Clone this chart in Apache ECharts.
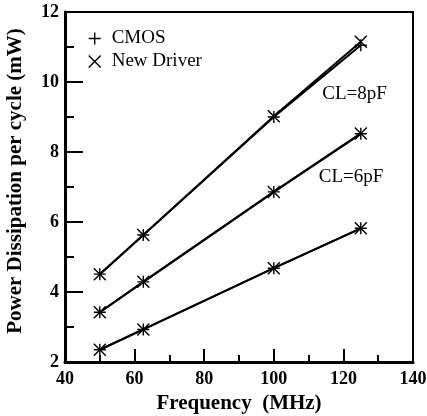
<!DOCTYPE html>
<html>
<head>
<meta charset="utf-8">
<script src="https://cdn.jsdelivr.net/npm/echarts@6/dist/echarts.min.js"></script>
<style>
  html, body { margin: 0; padding: 0; background: #fff; }
  #chart { width: 427px; height: 416px; }
</style>
</head>
<body>
<div id="chart"></div>
<script>
// Clock frequencies (MHz)
const freqs = [50, 62.5, 100, 125];

// Power dissipation per cycle (mW) for each load capacitance
const cmos8 = [4.51, 5.63, 9.00, 11.05];
const newDriver8 = [4.51, 5.63, 9.02, 11.15];
const cmos6 = [3.42, 4.29, 6.86, 8.52];
const newDriver6 = [3.42, 4.29, 6.86, 8.53];
const cmosLow = [2.35, 2.93, 4.68, 5.82];
const newDriverLow = [2.35, 2.93, 4.68, 5.82];

const xTicks = [40, 60, 80, 100, 120, 140];
const yTicks = [2, 4, 6, 8, 10, 12];

const PLUS = 'path://M5,0L5,10M0,5L10,5';
const CROSS = 'path://M0,0L10,10M10,0L0,10';
const FONT = '"Liberation Serif", "Times New Roman", serif';

function pairs(ys) { return freqs.map((f, i) => [f, ys[i]]); }

function makeSeries(name, ys, symbol) {
  return {
    name: name,
    type: 'line',
    data: pairs(ys),
    symbol: symbol,
    symbolSize: 12,
    showAllSymbol: true,
    lineStyle: { color: '#000', width: 2 },
    itemStyle: { color: 'transparent', borderColor: '#000', borderWidth: 1.4 },
    emphasis: { disabled: true },
    animation: false,
    z: 3
  };
}

const series = [
  makeSeries('CMOS', cmos8, PLUS),
  makeSeries('New Driver', newDriver8, CROSS),
  makeSeries('CMOS', cmos6, PLUS),
  makeSeries('New Driver', newDriver6, CROSS),
  makeSeries('CMOS', cmosLow, PLUS),
  makeSeries('New Driver', newDriverLow, CROSS)
];

// Capacitance annotations placed in data coordinates
series[0].markPoint = {
  symbol: 'circle', symbolSize: 0, silent: true, animation: false,
  label: { show: true, position: 'inside', formatter: 'CL=8pF', color: '#000', fontFamily: FONT, fontSize: 19 },
  data: [{ coord: [123.2, 9.65] }]
};
series[2].markPoint = {
  symbol: 'circle', symbolSize: 0, silent: true, animation: false,
  label: { show: true, position: 'inside', formatter: 'CL=6pF', color: '#000', fontFamily: FONT, fontSize: 19 },
  data: [{ coord: [122.2, 7.28] }]
};

const chart = echarts.init(document.getElementById('chart'));
chart.setOption({
  animation: false,
  backgroundColor: '#fff',
  grid: {
    left: 65, right: 14, top: 12, bottom: 54,
    outerBoundsMode: 'none', containLabel: false,
    show: true, borderColor: '#000', borderWidth: 2, backgroundColor: 'transparent'
  },
  legend: {
    orient: 'vertical',
    left: 83, top: 24,
    itemWidth: 12, itemHeight: 12, itemGap: 4,
    selectedMode: false,
    textStyle: { fontFamily: FONT, fontSize: 19, color: '#000', padding: [0, 0, 0, 6] },
    data: [
      { name: 'CMOS', icon: PLUS, itemStyle: { color: 'transparent', borderColor: '#000', borderWidth: 1.4 } },
      { name: 'New Driver', icon: CROSS, itemStyle: { color: 'transparent', borderColor: '#000', borderWidth: 1.4 } }
    ]
  },
  xAxis: {
    type: 'value',
    min: xTicks[0], max: xTicks[xTicks.length - 1], interval: 20,
    name: 'Frequency  (MHz)',
    nameLocation: 'middle', nameGap: 26,
    nameTextStyle: { fontFamily: FONT, fontSize: 21, fontWeight: 'bold', color: '#000' },
    axisLine: { show: true, lineStyle: { color: '#000', width: 3 } },
    axisTick: { show: true, inside: true, length: 13, lineStyle: { color: '#000', width: 2 } },
    minorTick: { show: true, splitNumber: 2, length: 7, lineStyle: { color: '#000', width: 2 } },
    axisLabel: { fontFamily: FONT, fontSize: 18, fontWeight: 'bold', color: '#000', margin: 8 },
    splitLine: { show: false }
  },
  yAxis: {
    type: 'value',
    min: yTicks[0], max: yTicks[yTicks.length - 1], interval: 2,
    name: 'Power Dissipation per cycle (mW)',
    nameLocation: 'middle', nameGap: 39, nameRotate: 90,
    nameTextStyle: { fontFamily: FONT, fontSize: 21, fontWeight: 'bold', color: '#000', padding: [0, 0, 0, 12] },
    axisLine: { show: true, lineStyle: { color: '#000', width: 3 } },
    axisTick: { show: true, inside: true, length: 18, lineStyle: { color: '#000', width: 2 } },
    minorTick: { show: true, splitNumber: 2, length: 9, lineStyle: { color: '#000', width: 2 } },
    axisLabel: { fontFamily: FONT, fontSize: 18, fontWeight: 'bold', color: '#000', margin: 6 },
    splitLine: { show: false }
  },
  series: series
});
</script>
</body>
</html>
